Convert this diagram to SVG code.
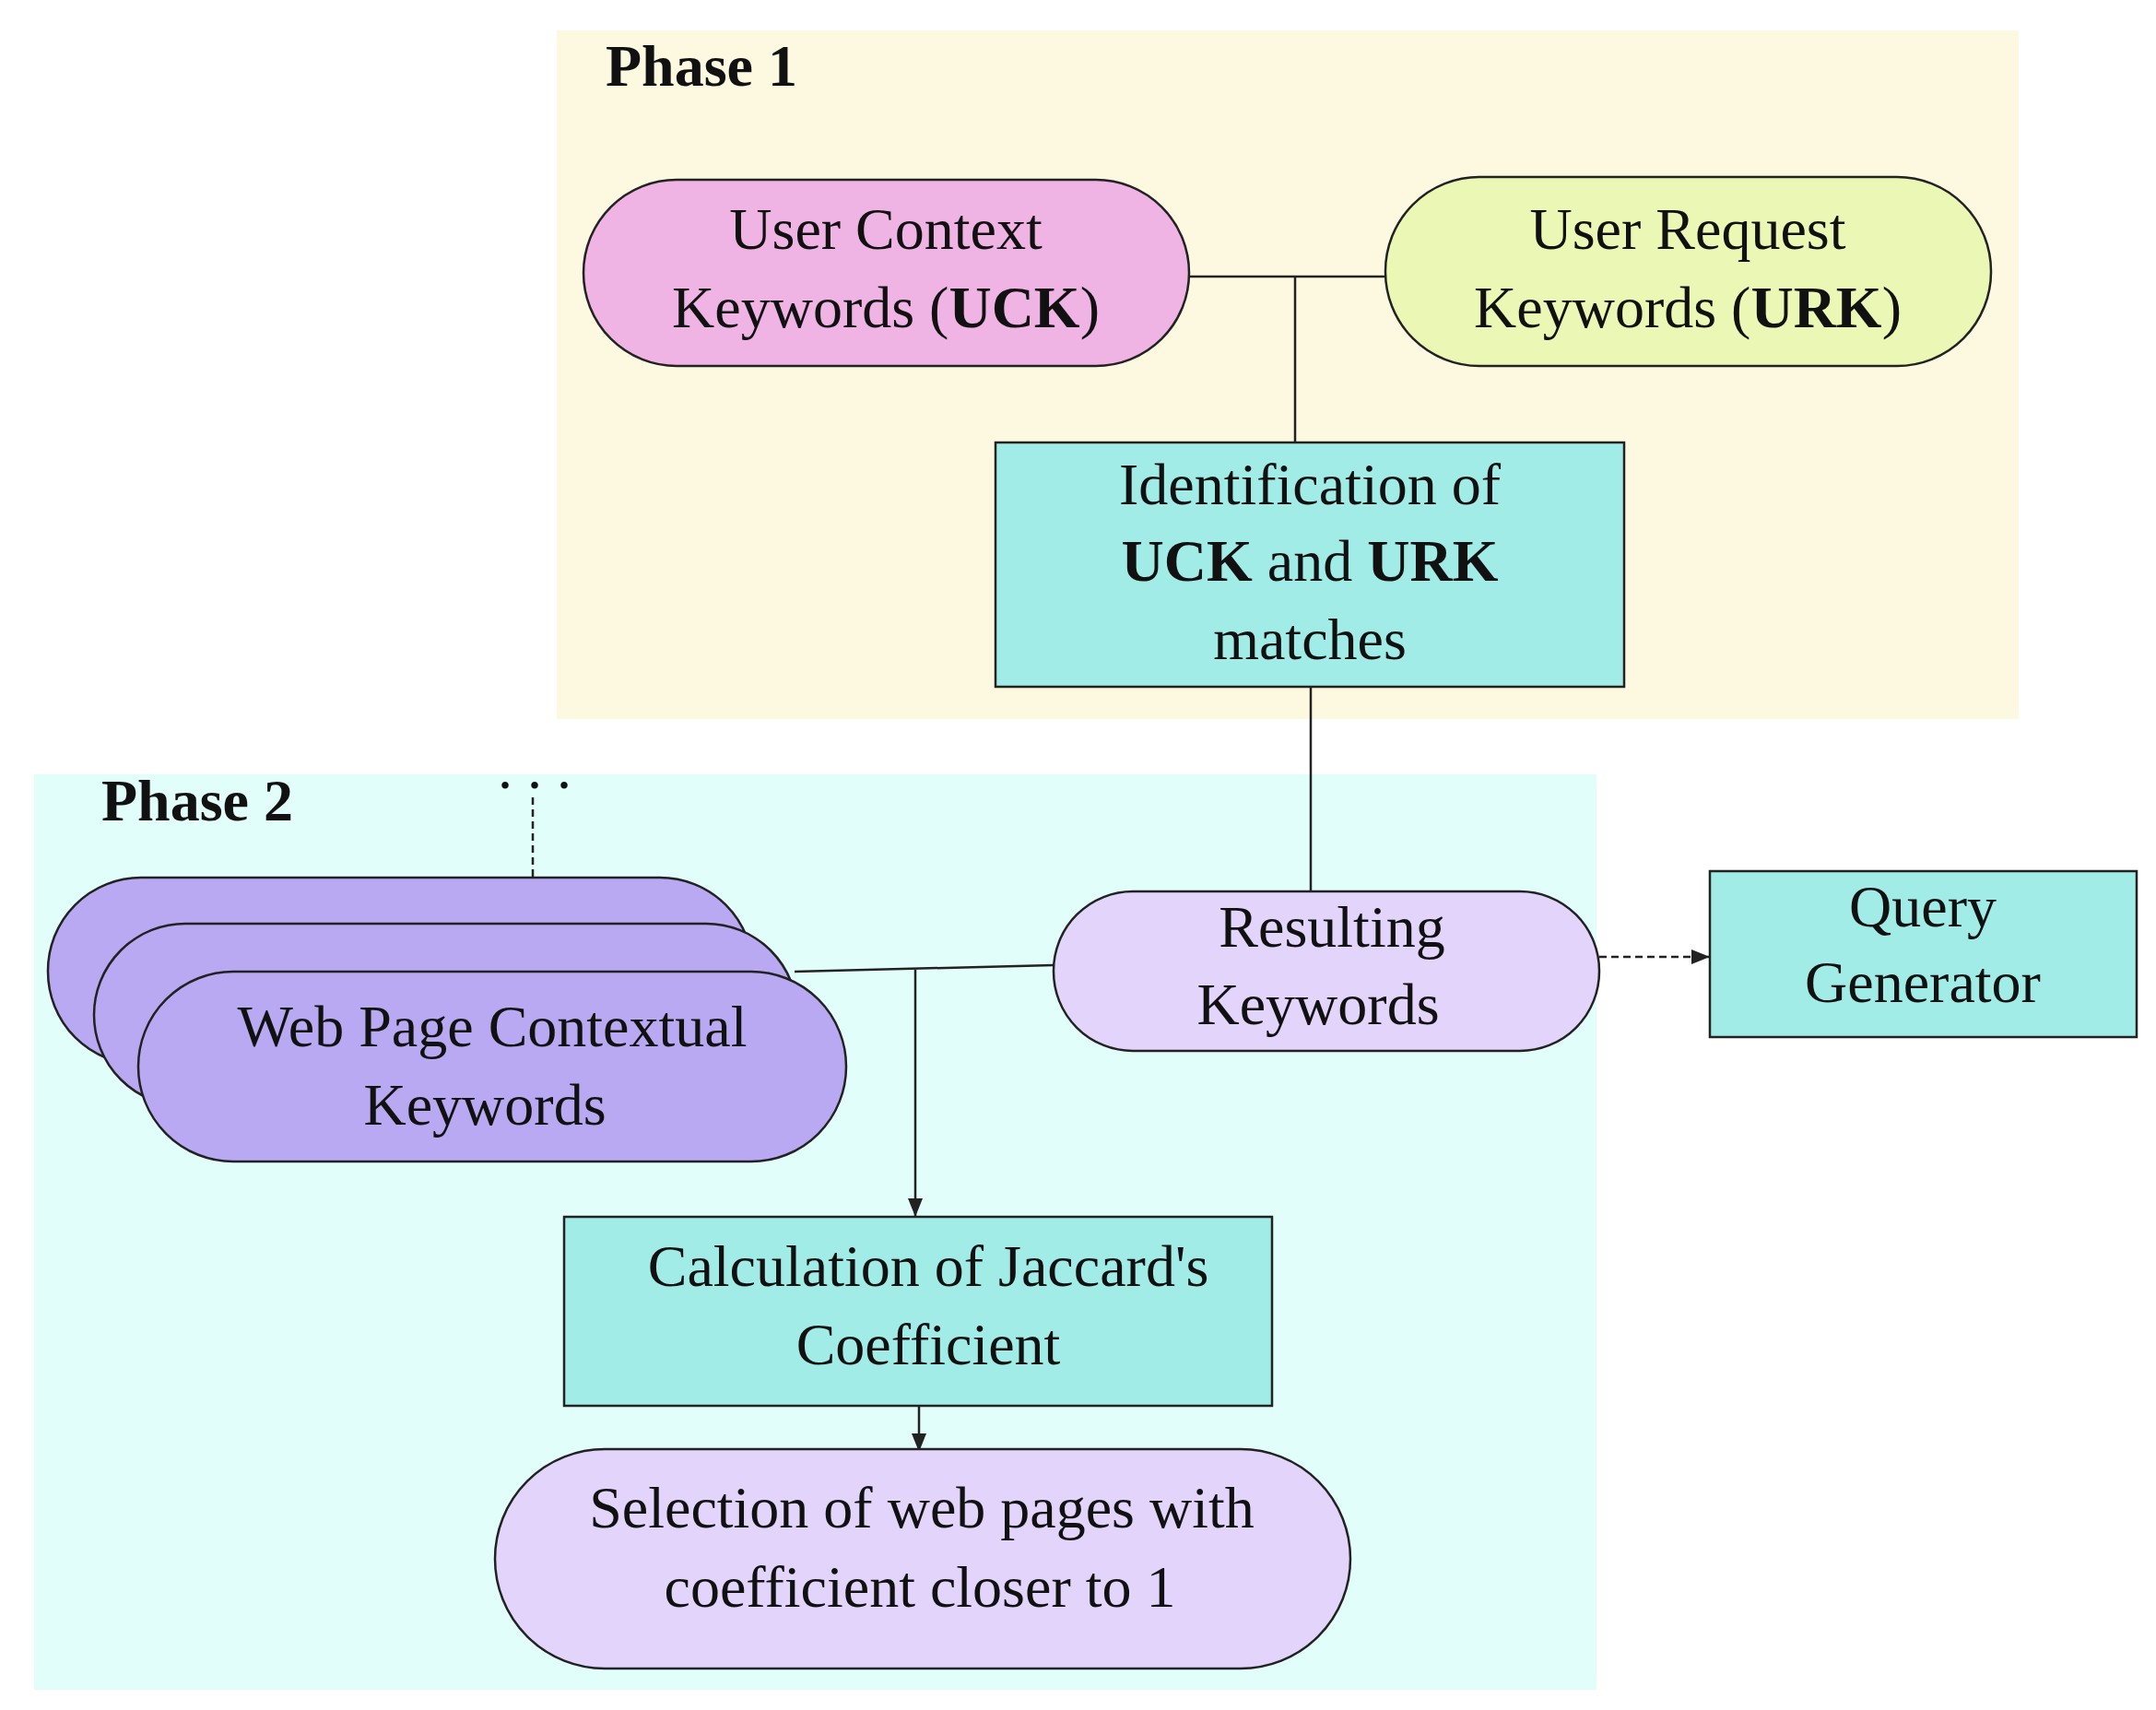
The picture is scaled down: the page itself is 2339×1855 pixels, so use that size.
<svg xmlns="http://www.w3.org/2000/svg" width="2339" height="1855" viewBox="0 0 2339 1855">
<defs>
<style>
.t{font-family:"Liberation Serif",serif;font-size:64px;fill:#111;text-anchor:middle}
.b{font-weight:bold}
.s{stroke:#222;stroke-width:2.5}
.l{stroke:#222;stroke-width:2.5;fill:none}
</style>
<marker id="a" viewBox="0 0 10 10" refX="10" refY="5" markerWidth="8" markerHeight="8" orient="auto"><path d="M0,1 L10,5 L0,9 z" fill="#222"/></marker>
</defs>
<rect width="2339" height="1855" fill="#fff"/>
<rect x="604" y="33" width="1586" height="747" fill="#fdf9e1"/>
<rect x="37" y="840" width="1695" height="993" fill="#e2fefb"/>
<text class="t b" x="657" y="93" text-anchor="start" style="text-anchor:start">Phase 1</text>
<text class="t b" x="110" y="890" style="text-anchor:start">Phase 2</text>
<g id="connectors">
<path class="l" d="M1290,300 H1503 M1405,300 V480"/>
<path class="l" d="M1422,745 V967"/>
<path class="l" d="M862,1054 L1143,1047"/>
<path class="l" d="M993,1052 V1320" marker-end="url(#a)"/>
<path class="l" d="M997,1525 V1575" marker-end="url(#a)"/>
<path class="l" d="M1735,1038 H1855" stroke-dasharray="8,5" marker-end="url(#a)"/>
<path class="l" d="M578,865 V975" stroke-dasharray="8,5" marker-end="url(#a)"/>
</g>
<g id="uck"><rect class="s" x="633" y="195" width="657" height="202" rx="101" fill="#efb3e4"/>
<text class="t" x="961" y="270">User Context</text><text class="t" x="961" y="355">Keywords (<tspan class="b">UCK</tspan>)</text></g>
<g id="urk"><rect class="s" x="1503" y="192" width="657" height="205" rx="102" fill="#ebf7b5"/>
<text class="t" x="1831" y="270">User Request</text><text class="t" x="1831" y="355">Keywords (<tspan class="b">URK</tspan>)</text></g>
<g id="ident"><rect class="s" x="1080" y="480" width="682" height="265" fill="#a1ece6"/>
<text class="t" x="1421" y="547">Identification of</text><text class="t" x="1421" y="630"><tspan class="b">UCK</tspan> and <tspan class="b">URK</tspan></text><text class="t" x="1421" y="715">matches</text></g>
<g id="resulting"><rect class="s" x="1143" y="967" width="592" height="173" rx="86" fill="#e2d4fb"/>
<text class="t" x="1445" y="1027">Resulting</text><text class="t" x="1430" y="1111">Keywords</text></g>
<g id="query"><rect class="s" x="1855" y="945" width="463" height="180" fill="#a1ece6"/>
<text class="t" x="2086" y="1005">Query</text><text class="t" x="2086" y="1087">Generator</text></g>
<text class="t" x="580" y="855">. . .</text>
<g id="webpages">
<rect class="s" x="52" y="952" width="765" height="203" rx="101" fill="#b9a8f2"/>
<rect class="s" x="102" y="1002" width="763" height="198" rx="99" fill="#b9a8f2"/>
<rect class="s" x="150" y="1054" width="768" height="206" rx="103" fill="#b9a8f2"/>
<text class="t" x="534" y="1135">Web Page Contextual</text><text class="t" x="526" y="1220">Keywords</text></g>
<g id="calc"><rect class="s" x="612" y="1320" width="768" height="205" fill="#a1ece6"/>
<text class="t" x="1007" y="1395">Calculation of Jaccard's</text><text class="t" x="1007" y="1480">Coefficient</text></g>
<g id="selection"><rect class="s" x="537" y="1572" width="928" height="238" rx="119" fill="#e2d4fb"/>
<text class="t" x="1000" y="1657">Selection of web pages with</text><text class="t" x="998" y="1743">coefficient closer to 1</text></g>
</svg>
